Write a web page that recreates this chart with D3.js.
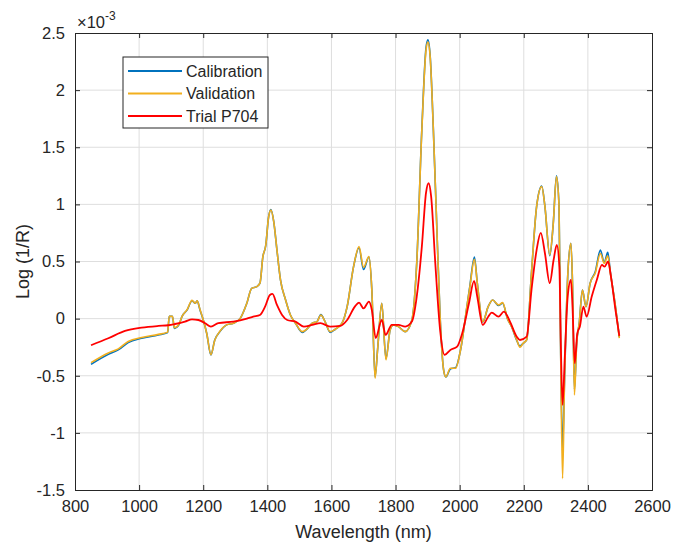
<!DOCTYPE html>
<html>
<head>
<meta charset="utf-8">
<script src="https://cdn.jsdelivr.net/npm/d3@7"></script>
<style>
  body { margin: 0; background: #fff; }
  svg text { font-family: "Liberation Sans", Arial, sans-serif; fill: #262626; }
</style>
</head>
<body>
<div id="chart"></div>
<script>
// data (values in units of 1e-3)
const xTicks = [800, 1000, 1200, 1400, 1600, 1800, 2000, 2200, 2400, 2600]
const yTicks = [-1.5, -1, -0.5, 0, 0.5, 1, 1.5, 2, 2.5]
const yTickLabels = ["-1.5", "-1", "-0.5", "0", "0.5", "1", "1.5", "2", "2.5"]
const seriesNames = ["Calibration", "Validation", "Trial P704"]

const specWl = [850, 904, 935, 966, 1008, 1060, 1089, 1094, 1104, 1110, 1124, 1134, 1150, 1165, 1175, 1181, 1190, 1200,
  1211, 1224, 1236, 1252, 1273, 1294, 1315, 1336, 1351, 1367, 1377, 1386, 1395, 1404, 1411, 1420, 1430, 1441, 1457,
  1472, 1488, 1509, 1524, 1540, 1555, 1567, 1580, 1596, 1612, 1633, 1649, 1669, 1686, 1700, 1717, 1726, 1736, 1744,
  1757, 1770, 1783, 1793, 1809, 1830, 1851, 1866, 1882, 1895, 1901, 1908, 1918, 1929, 1939, 1950, 1957, 1971, 1987,
  2003, 2024, 2032, 2046, 2055, 2072, 2089, 2103, 2121, 2134, 2149, 2162, 2178, 2188, 2198, 2209, 2224, 2240, 2256,
  2266, 2281, 2292, 2302, 2310, 2315, 2321, 2327, 2337, 2347, 2352, 2358, 2365, 2373, 2383, 2394, 2407, 2423, 2439,
  2451, 2462, 2470, 2486, 2498]

const validation = [-0.385, -0.30, -0.265, -0.20, -0.165, -0.138, -0.118, 0.02, 0.02, -0.08, -0.05, 0.02, 0.08, 0.16,
  0.135, 0.155, 0.08, -0.01, -0.13, -0.315, -0.19, -0.11, -0.055, -0.04, 0.0, 0.134, 0.265, 0.28, 0.31, 0.54, 0.64,
  0.89, 0.95, 0.85, 0.60, 0.34, 0.163, 0.032, -0.04, -0.114, -0.09, -0.04, -0.026, 0.032, -0.026, -0.114, -0.093,
  -0.04, 0.105, 0.455, 0.63, 0.45, 0.543, 0.25, -0.522, -0.27, 0.134, -0.36, -0.10, -0.055, -0.07, -0.114, -0.012,
  0.484, 1.65, 2.35, 2.42, 2.29, 1.65, 0.776, 0.017, -0.45, -0.51, -0.435, -0.435, -0.27, 0.134, 0.28, 0.52, 0.31,
  -0.026, 0.105, 0.163, 0.12, 0.14, 0.0, -0.07, -0.187, -0.25, -0.216, -0.187, 0.40, 0.98, 1.155, 0.98, 0.557, 0.834,
  1.243, 0.98, -0.274, -1.40, -0.566, 0.368, 0.66, 0.31, -0.668, -0.216, -0.04, 0.25, 0.105, 0.31, 0.40, 0.57, 0.484,
  0.55, 0.40, 0.105, -0.17]

const calibration = [-0.40, -0.312, -0.274, -0.21, -0.172, -0.143, -0.122, 0.02, 0.02, -0.085, -0.055, 0.02, 0.076,
  0.157, 0.134, 0.155, 0.076, -0.01, -0.13, -0.318, -0.187, -0.114, -0.055, -0.04, 0.0, 0.134, 0.265, 0.28, 0.31,
  0.54, 0.64, 0.89, 0.955, 0.85, 0.60, 0.34, 0.163, 0.032, -0.04, -0.12, -0.09, -0.04, -0.026, 0.035, -0.026, -0.12,
  -0.093, -0.04, 0.105, 0.455, 0.62, 0.43, 0.54, 0.25, -0.51, -0.27, 0.134, -0.35, -0.10, -0.055, -0.07, -0.114,
  -0.012, 0.484, 1.66, 2.37, 2.44, 2.30, 1.65, 0.776, 0.017, -0.45, -0.51, -0.44, -0.43, -0.27, 0.134, 0.29, 0.54,
  0.31, -0.03, 0.105, 0.163, 0.115, 0.135, 0.0, -0.07, -0.19, -0.24, -0.216, -0.187, 0.40, 0.98, 1.16, 0.98, 0.55,
  0.834, 1.25, 0.98, -0.274, -1.15, -0.55, 0.368, 0.66, 0.31, -0.62, -0.216, -0.04, 0.25, 0.105, 0.31, 0.41, 0.60,
  0.49, 0.58, 0.41, 0.105, -0.16]

const trialWl = [850, 904, 956, 1008, 1060, 1091, 1112, 1143, 1165, 1185, 1206, 1224, 1247, 1294, 1336, 1356, 1377,
  1393, 1408, 1416, 1430, 1446, 1462, 1488, 1514, 1540, 1566, 1596, 1627, 1649, 1673, 1686, 1700, 1717, 1726, 1738,
  1757, 1769, 1788, 1809, 1830, 1851, 1866, 1882, 1895, 1903, 1911, 1924, 1939, 1953, 1971, 1992, 2008, 2029, 2045,
  2055, 2072, 2089, 2100, 2121, 2138, 2157, 2178, 2188, 2209, 2224, 2240, 2253, 2266, 2281, 2293, 2303, 2311, 2316,
  2321, 2328, 2337, 2347, 2352, 2359, 2367, 2375, 2386, 2396, 2412, 2428, 2444, 2452, 2463, 2472, 2486, 2498]

const trial = [-0.233, -0.172, -0.108, -0.079, -0.064, -0.058, -0.047, -0.026, -0.006, -0.012, -0.04, -0.07, -0.04,
  -0.026, 0.0, 0.017, 0.032, 0.105, 0.207, 0.216, 0.12, 0.032, -0.012, -0.026, -0.07, -0.055, -0.04, -0.07, -0.064,
  -0.012, 0.105, 0.14, 0.09, 0.149, 0.076, -0.17, -0.012, -0.143, -0.055, -0.055, -0.07, -0.026, 0.19, 0.63, 1.10,
  1.185, 1.07, 0.484, -0.10, -0.318, -0.274, -0.245, -0.128, 0.134, 0.33, 0.19, -0.055, 0.017, 0.052, 0.017, 0.061,
  -0.026, -0.158, -0.187, -0.158, 0.25, 0.60, 0.75, 0.572, 0.31, 0.513, 0.645, 0.455, -0.274, -0.756, -0.333, 0.193,
  0.34, 0.105, -0.39, -0.128, -0.07, 0.105, 0.017, 0.193, 0.34, 0.47, 0.455, 0.50, 0.368, 0.076, -0.15]

const colors = ["#0072BD", "#F2AF1E", "#FF0000"]

// layout
const W = 673, H = 544
const margin = {top: 33, right: 21, bottom: 54, left: 75}
const width = W - margin.left - margin.right
const height = H - margin.top - margin.bottom

const svg = d3.select("#chart").append("svg")
    .attr("width", W)
    .attr("height", H)
  .append("g")
    .attr("transform", `translate(${margin.left},${margin.top})`)

const xScale = d3.scaleLinear().domain([800, 2600]).range([0, width])
const yScale = d3.scaleLinear().domain([-1.5, 2.5]).range([height, 0])

// grid
svg.append("g").selectAll("line").data(xTicks.slice(1, -1)).join("line")
    .attr("x1", d => xScale(d)).attr("x2", d => xScale(d))
    .attr("y1", 0).attr("y2", height)
    .attr("stroke", "#dedede").attr("stroke-width", 1)
svg.append("g").selectAll("line").data(yTicks.slice(1, -1)).join("line")
    .attr("y1", d => yScale(d)).attr("y2", d => yScale(d))
    .attr("x1", 0).attr("x2", width)
    .attr("stroke", "#dedede").attr("stroke-width", 1)

// axes (inward ticks on all sides)
const xAxis = d3.axisBottom(xScale).tickValues(xTicks).tickSize(-5).tickPadding(10).tickFormat(d3.format("d"))
const yAxis = d3.axisLeft(yScale).tickValues(yTicks).tickSize(-5).tickPadding(10)
    .tickFormat((d, i) => yTickLabels[i])

svg.append("g").attr("transform", `translate(0,${height})`).call(xAxis)
svg.append("g").call(yAxis)
svg.append("g").call(d3.axisTop(xScale).tickValues(xTicks).tickSize(-5).tickFormat(""))
svg.append("g").attr("transform", `translate(${width},0)`)
    .call(d3.axisRight(yScale).tickValues(yTicks).tickSize(-5).tickFormat(""))

svg.selectAll(".domain").attr("stroke", "#262626")
svg.selectAll(".tick line").attr("stroke", "#262626")
svg.selectAll(".tick text").style("font-size", "16.5px").attr("fill", "#262626")

// exponent label
const expo = svg.append("text").attr("x", 2).attr("y", -5).style("font-size", "16.5px")
expo.append("tspan").text("\u00d710")
expo.append("tspan").attr("dy", -8).style("font-size", "12px").text("-3")

// axis titles
svg.append("text")
    .attr("x", width / 2).attr("y", height + 48)
    .attr("text-anchor", "middle").style("font-size", "18px")
    .text("Wavelength (nm)")
svg.append("text")
    .attr("transform", `translate(${-46},${height / 2}) rotate(-90)`)
    .attr("text-anchor", "middle").style("font-size", "18px")
    .text("Log (1/R)")

// lines
svg.append("clipPath").attr("id", "clip").append("rect").attr("width", width).attr("height", height)

const line = d3.line()
    .curve(d3.curveMonotoneX)
    .x(d => xScale(d[0]))
    .y(d => yScale(d[1]))

const series = [
  {name: seriesNames[0], data: d3.zip(specWl, calibration), color: colors[0], w: 1.6},
  {name: seriesNames[1], data: d3.zip(specWl, validation), color: colors[1], w: 1.6},
  {name: seriesNames[2], data: d3.zip(trialWl, trial), color: colors[2], w: 1.8}
]

svg.append("g").attr("clip-path", "url(#clip)")
  .selectAll("path").data(series).join("path")
    .attr("fill", "none")
    .attr("stroke", d => d.color)
    .attr("stroke-width", d => d.w)
    .attr("stroke-linejoin", "round")
    .attr("d", d => line(d.data))

// legend
const legend = svg.append("g").attr("transform", "translate(48,24)")
legend.append("rect")
    .attr("width", 145).attr("height", 71)
    .attr("fill", "#fff").attr("stroke", "#262626").attr("stroke-width", 1)
const rows = legend.selectAll("g").data(series).join("g")
    .attr("transform", (d, i) => `translate(0,${14 + i * 22.5})`)
rows.append("line")
    .attr("x1", 5).attr("x2", 59)
    .attr("stroke", d => d.color).attr("stroke-width", 2)
rows.append("text")
    .attr("x", 63).attr("dy", "0.35em")
    .style("font-size", "16px")
    .text(d => d.name)
</script>
</body>
</html>
